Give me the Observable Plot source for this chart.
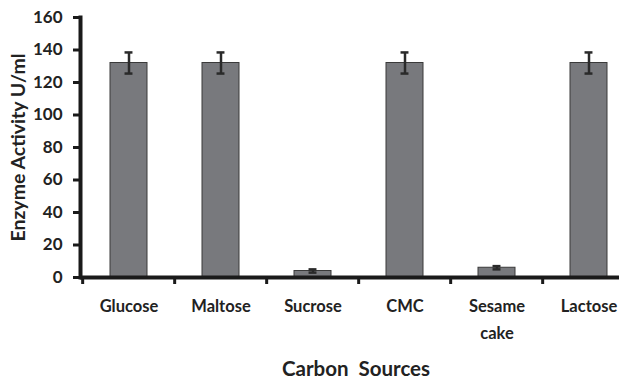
<!DOCTYPE html>
<html>
<head>
<meta charset="utf-8">
<script src="https://cdn.jsdelivr.net/npm/d3@7"></script>
<script src="https://cdn.jsdelivr.net/npm/@observablehq/plot@0.6"></script>
<style>
  html, body { margin: 0; padding: 0; background: #fff; }
  svg { display: block; }
</style>
</head>
<body>
<div id="chart"></div>
<script>
const categories = ["Glucose", "Maltose", "Sucrose", "CMC", "Sesame cake", "Lactose"];
const activity = [132, 132, 4, 132, 6, 132];
const errors = [6.5, 6.5, 1, 6.5, 1, 6.5];
const yTicks = [0, 20, 40, 60, 80, 100, 120, 140, 160];

const data = categories.map((c, i) => ({source: c, value: activity[i], err: errors[i]}));

const W = 619, H = 383;
const xRange = [80, 636];
const step = (xRange[1] - xRange[0]) / categories.length;
const capInset = (step * 0.4 - 8) / 2;
const font = "Lato, 'Open Sans', sans-serif";

const chart = Plot.plot({
  width: W,
  height: H,
  marginLeft: 80,
  marginRight: 0,
  marginTop: 17,
  marginBottom: 106,
  style: {fontFamily: font, color: "#222", background: "#fff"},
  x: {domain: categories, range: xRange, paddingInner: 0.6, paddingOuter: 0.3},
  y: {domain: [0, 160], ticks: yTicks},
  marks: [
    Plot.barY(data, {x: "source", y: "value", fill: "#78797d", stroke: "#3a3a3a", strokeWidth: 1}),
    Plot.ruleX(data, {x: "source", y1: d => d.value - d.err, y2: d => d.value + d.err, stroke: "#2a2a2a", strokeWidth: 2.5}),
    Plot.tickY(data, {x: "source", y: d => d.value + d.err, stroke: "#2a2a2a", strokeWidth: 2.5, insetLeft: capInset, insetRight: capInset}),
    Plot.tickY(data, {x: "source", y: d => d.value - d.err, stroke: "#2a2a2a", strokeWidth: 2.5, insetLeft: capInset, insetRight: capInset}),
    Plot.axisX(categories, {tickSize: 7, tickFormat: () => "", dx: -step / 2, strokeWidth: 3, stroke: "#1a1a1a", label: null}),
    Plot.ruleY([0], {stroke: "#1a1a1a", strokeWidth: 4}),
    Plot.frame({anchor: "left", stroke: "#1a1a1a", strokeWidth: 4}),
    Plot.axisY({
      ticks: yTicks, tickSize: 7, tickPadding: 11, strokeWidth: 3, stroke: "#1a1a1a",
      fontSize: 17, fontWeight: 700, fill: "#222",
      label: null
    }),
    Plot.axisX({
      tickSize: 0, tickPadding: 15, fontSize: 16.5, fontWeight: 700, fill: "#222", lineHeight: 1.65,
      tickFormat: d => d.replace(" ", "\n"),
      label: null
    }),
    Plot.text(["Enzyme Activity U/ml"], {frameAnchor: "left", textAnchor: "middle", lineAnchor: "middle", dx: -62, rotate: -90, fontSize: 19.5, fontWeight: 700, fill: "#222", text: d => d}),
    Plot.text(["Carbon  Sources"], {frameAnchor: "bottom", dx: 6, dy: 98, fontSize: 20.5, fontWeight: 700, fill: "#222", text: d => d})
  ]
});

document.getElementById("chart").appendChild(chart);
</script>
</body>
</html>
